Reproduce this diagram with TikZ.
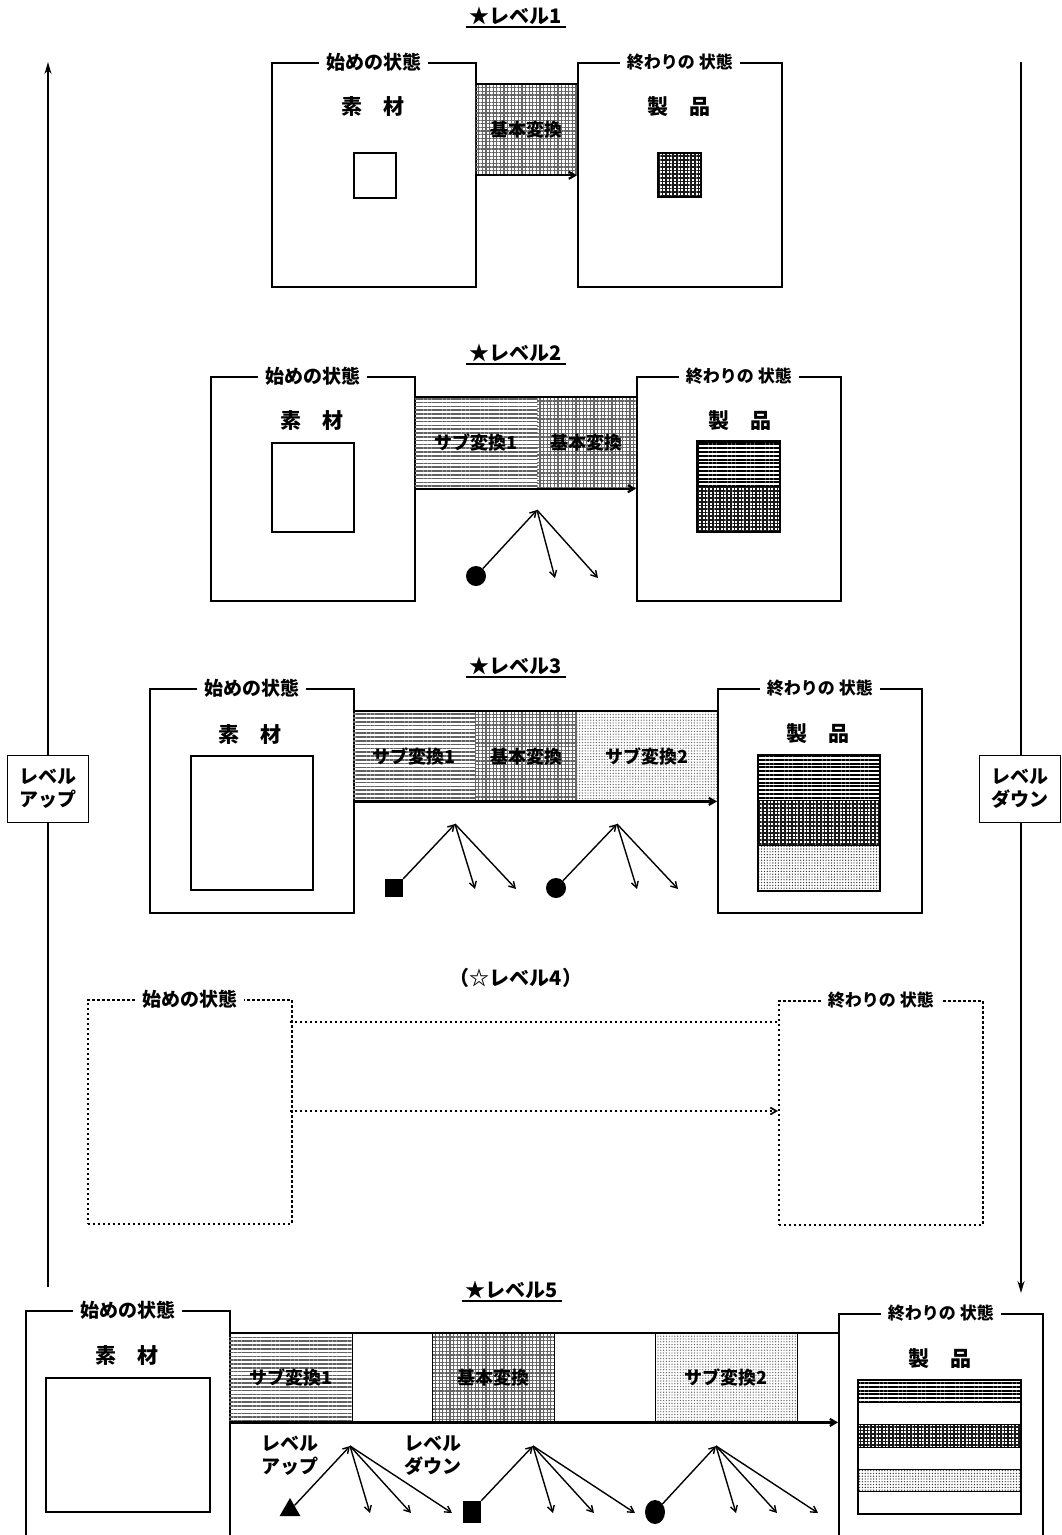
\documentclass[tikz,border=0pt]{standalone}
\usepackage{fontspec}
\setmainfont{Noto Sans CJK JP}
\usetikzlibrary{arrows.meta,patterns.meta,shapes.geometric}
\begin{document}
\begin{tikzpicture}[x=1pt,y=-1pt,
  every node/.style={font=\bfseries\fontsize{20}{23}\selectfont},
  state/.style={draw, line width=1.8pt, minimum width=204pt, minimum height=224pt, inner sep=0pt, anchor=north west},
  dstate/.style={state, line width=1.7pt, dash pattern=on 2.4pt off 2.6pt},
  lab/.style={fill=white, inner xsep=7pt, inner ysep=1pt, font=\bfseries\fontsize{19}{20}\selectfont},
  elab/.style={lab, font=\bfseries\fontsize{17}{20}\selectfont},
  item/.style={font=\bfseries\fontsize{21}{22}\selectfont},
  title/.style={inner xsep=4pt, inner ysep=2pt, font=\bfseries\fontsize{20}{21}\selectfont},
  inbox/.style={draw, line width=1.7pt, inner sep=0pt, anchor=north west},
  stripe/.style={draw, line width=1pt, inner sep=0pt, anchor=north west},
  seg/.style={inner sep=0pt, minimum height=90pt, anchor=north west, font=\bfseries\fontsize{18}{20}\selectfont},
  plines/.style={pattern={Lines[distance=3.8pt,line width=2pt]}, pattern color=black},
  pgrid/.style={pattern={Hatch[distance=3.6pt,line width=1.6pt]}, pattern color=black!90},
  pdots/.style={pattern={Dots[distance=2.8pt,radius=0.7pt]}, pattern color=black!80},
  blines/.style={pattern={Lines[distance=3.8pt,line width=1.7pt]}, pattern color=black!62},
  bgrid/.style={pattern={Hatch[distance=3.6pt,line width=1.3pt]}, pattern color=black!60},
  bdots/.style={pattern={Dots[distance=2.8pt,radius=0.7pt]}, pattern color=black!60},
  arr/.style={line width=1.4pt, -{Straight Barb[length=6pt,width=7pt]}},
  band/.style={line width=2.2pt},
  barr/.style={line width=2.2pt, -{Straight Barb[length=6pt,width=7pt]}},
  dline/.style={line width=1.7pt, dash pattern=on 2.4pt off 2.6pt},
  lvbox/.style={draw, fill=white, line width=1.7pt, align=center, inner xsep=6pt, inner ysep=4pt, minimum width=81pt, minimum height=67pt, font=\bfseries\fontsize{19}{23}\selectfont},
  dot/.style={circle, fill, inner sep=0pt, minimum size=20pt},
  sq/.style={rectangle, fill, inner sep=0pt, minimum size=18pt},
  tri/.style={regular polygon, regular polygon sides=3, fill, inner sep=0pt, minimum size=24pt}
]
\useasboundingbox (0,0) rectangle (1061,1535);

% ---------- side arrows ----------
\coordinate (lvB) at (48,1287);
\coordinate (lvT) at (48,62);
\draw[line width=1.7pt, -{Stealth[length=12pt,width=7pt]}] (lvB) -- (lvT);
\node[lvbox] (up) at (48,789) {レベル\\アップ};
\coordinate (rvT) at (1021,62);
\coordinate (rvB) at (1021,1293);
\draw[line width=1.7pt, -{Stealth[length=12pt,width=7pt]}] (rvT) -- (rvB);
\node[lvbox] (down) at (1020,789) {レベル\\ダウン};

% ---------- level 1 ----------
\node[title] (t1) at (516,16) {★レベル1};
\draw[line width=1.4pt] (t1.south west) -- (t1.south east);
\node[state] (s1) at (271,62) {};
\node[lab] (s1l) at (s1.north) {始めの状態};
\node[item] (m1) at (373,107) {素　材};
\node[inbox, minimum width=42pt, minimum height=45pt] (r1) at (353,152) {};
\node[seg, bgrid, minimum width=102pt] (b1) at (475,84) {基本変換};
\draw[band] (b1.north west) -- (b1.north east);
\node[state] (e1) at (577,62) {};
\draw[barr] (b1.south west) -- (b1.south west -| e1.west);
\node[elab] (e1l) at (e1.north) {終わりの 状態};
\node[item] (p1) at (679,107) {製　品};
\node[inbox, pgrid, minimum width=43pt, minimum height=44pt] (q1) at (657,152) {};

% ---------- level 2 ----------
\node[title] (t2) at (516,353) {★レベル2};
\draw[line width=1.4pt] (t2.south west) -- (t2.south east);
\node[state] (s2) at (210,376) {};
\node[lab] (s2l) at (s2.north) {始めの状態};
\node[item] (m2) at (312,421) {素　材};
\node[inbox, minimum width=82pt, minimum height=89pt] (r2) at (271,442) {};
\node[seg, blines, minimum width=123pt] (b2a) at (414,397) {サブ変換1};
\node[seg, bgrid, minimum width=99pt] (b2b) at (537,397) {基本変換};
\draw[band] (b2a.north west) -- (b2b.north east);
\node[state] (e2) at (636,376) {};
\draw[barr] (b2a.south west) -- (b2a.south west -| e2.west);
\node[elab] (e2l) at (e2.north) {終わりの 状態};
\node[item] (p2) at (740,421) {製　品};
\node[stripe, plines, minimum width=82pt, minimum height=45pt] (q2a) at (697,441) {};
\node[stripe, pgrid, minimum width=82pt, minimum height=45pt] (q2b) at (697,486) {};
\draw[line width=1.7pt] (q2a.north west) rectangle (q2b.south east);
\node[dot] (c2) at (476,576) {};
\coordinate (a2) at (537,510);
\coordinate (f2a) at (555,578);
\coordinate (f2b) at (598,578);
\draw[arr] (c2) -- (a2);
\draw[arr] (a2) -- (f2a);
\draw[arr] (a2) -- (f2b);

% ---------- level 3 ----------
\node[title] (t3) at (516,666) {★レベル3};
\draw[line width=1.4pt] (t3.south west) -- (t3.south east);
\node[state] (s3) at (149,688) {};
\node[lab] (s3l) at (s3.north) {始めの状態};
\node[item] (m3) at (250,734) {素　材};
\node[inbox, minimum width=122pt, minimum height=134pt] (r3) at (190,755) {};
\node[seg, blines, minimum width=122pt] (b3a) at (353,711) {サブ変換1};
\node[seg, bgrid, minimum width=102pt] (b3b) at (475,711) {基本変換};
\node[seg, bdots, minimum width=140pt] (b3c) at (577,711) {サブ変換2};
\draw[band] (b3a.north west) -- (b3c.north east);
\node[state] (e3) at (717,688) {};
\draw[barr] (b3a.south west) -- (b3a.south west -| e3.west);
\node[elab] (e3l) at (e3.north) {終わりの 状態};
\node[item] (p3) at (818,734) {製　品};
\node[stripe, plines, minimum width=121pt, minimum height=45pt] (q3a) at (758,755) {};
\node[stripe, pgrid, minimum width=121pt, minimum height=45pt] (q3b) at (758,800) {};
\node[stripe, pdots, minimum width=121pt, minimum height=45pt] (q3c) at (758,845) {};
\draw[line width=1.7pt] (q3a.north west) rectangle (q3c.south east);
\node[sq] (k3) at (394,888) {};
\coordinate (a3a) at (455,824);
\coordinate (f3a) at (475,889);
\coordinate (f3b) at (516,889);
\draw[arr] (k3.north east) -- (a3a);
\draw[arr] (a3a) -- (f3a);
\draw[arr] (a3a) -- (f3b);
\node[dot] (c3) at (556,888) {};
\coordinate (a3b) at (617,824);
\coordinate (f3c) at (637,889);
\coordinate (f3d) at (678,889);
\draw[arr] (c3) -- (a3b);
\draw[arr] (a3b) -- (f3c);
\draw[arr] (a3b) -- (f3d);

% ---------- level 4 ----------
\node[title] (t4) at (516,978) {（☆レベル4）};
\node[dstate] (s4) at (87,999) {};
\node[lab] (s4l) at (s4.north) {始めの状態};
\node[dstate] (e4) at (778,1000) {};
\node[elab] (e4l) at (e4.north) {終わりの 状態};
\coordinate (l4t) at (290,1022);
\coordinate (l4b) at (290,1111);
\draw[dline] (l4t) -- (l4t -| e4.west);
\draw[dline, -{Straight Barb[length=6pt,width=7pt]}] (l4b) -- (l4b -| e4.west);

% ---------- level 5 ----------
\node[title] (t5) at (512,1290) {★レベル5};
\draw[line width=1.4pt] (t5.south west) -- (t5.south east);
\node[state, minimum height=226pt] (s5) at (25,1310) {};
\node[lab] (s5l) at (s5.north) {始めの状態};
\node[item] (m5) at (127,1355) {素　材};
\node[inbox, minimum width=164pt, minimum height=134pt] (r5) at (45,1377) {};
\node[seg, blines, minimum width=123pt, minimum height=89pt] (b5a) at (229,1333) {サブ変換1};
\node[seg, minimum width=80pt, minimum height=89pt] (b5w1) at (352,1333) {};
\node[seg, bgrid, minimum width=122pt, minimum height=89pt] (b5b) at (432,1333) {基本変換};
\node[seg, minimum width=101pt, minimum height=89pt] (b5w2) at (554,1333) {};
\node[seg, bdots, minimum width=142pt, minimum height=89pt] (b5c) at (655,1333) {サブ変換2};
\node[seg, minimum width=41pt, minimum height=89pt] (b5w3) at (797,1333) {};
\draw[line width=1pt] (b5w1.north west) -- (b5w1.south west) (b5w1.north east) -- (b5w1.south east)
  (b5w2.north west) -- (b5w2.south west) (b5w2.north east) -- (b5w2.south east)
  (b5w3.north west) -- (b5w3.south west);
\draw[band] (b5a.north west) -- (b5w3.north east);
\node[state, minimum height=226pt] (e5) at (838,1313) {};
\draw[barr] (b5a.south west) -- (b5a.south west -| e5.west);
\node[elab] (e5l) at (e5.north) {終わりの 状態};
\node[item] (p5) at (940,1359) {製　品};
\node[stripe, plines, minimum width=162pt, minimum height=22pt] (q5a) at (858,1380) {};
\node[stripe, minimum width=162pt, minimum height=22pt] (q5b) at (858,1402) {};
\node[stripe, pgrid, minimum width=162pt, minimum height=23pt] (q5c) at (858,1424) {};
\node[stripe, minimum width=162pt, minimum height=22pt] (q5d) at (858,1447) {};
\node[stripe, pdots, minimum width=162pt, minimum height=22pt] (q5e) at (858,1469) {};
\node[stripe, minimum width=162pt, minimum height=22pt] (q5f) at (858,1491) {};
\draw[line width=1.7pt] (q5a.north west) rectangle (q5f.south east);
\node[align=center, font=\bfseries\fontsize{19}{23}\selectfont] (lu5) at (290,1456) {レベル\\アップ};
\node[align=center, font=\bfseries\fontsize{19}{23}\selectfont] (ld5) at (433,1456) {レベル\\ダウン};
% group 1
\node[tri] (g1) at (290,1510) {};
\coordinate (a5a) at (350,1446);
\coordinate (f5a) at (370,1513);
\coordinate (f5b) at (411,1513);
\coordinate (f5c) at (452,1513);
\draw[arr] (g1.north east) -- (a5a);
\draw[arr] (a5a) -- (f5a);
\draw[arr] (a5a) -- (f5b);
\draw[arr] (a5a) -- (f5c);
% group 2
\node[sq, minimum width=18pt, minimum height=22pt] (g2) at (472,1512) {};
\coordinate (a5b) at (533,1446);
\coordinate (f5d) at (553,1513);
\coordinate (f5e) at (594,1513);
\coordinate (f5f) at (635,1513);
\draw[arr] (g2.north east) -- (a5b);
\draw[arr] (a5b) -- (f5d);
\draw[arr] (a5b) -- (f5e);
\draw[arr] (a5b) -- (f5f);
% group 3
\node[dot, minimum width=20pt, minimum height=24pt, ellipse] (g3) at (655,1512) {};
\coordinate (a5c) at (716,1446);
\coordinate (f5g) at (736,1513);
\coordinate (f5h) at (777,1513);
\coordinate (f5i) at (818,1513);
\draw[arr] (g3) -- (a5c);
\draw[arr] (a5c) -- (f5g);
\draw[arr] (a5c) -- (f5h);
\draw[arr] (a5c) -- (f5i);
\end{tikzpicture}
\end{document}
